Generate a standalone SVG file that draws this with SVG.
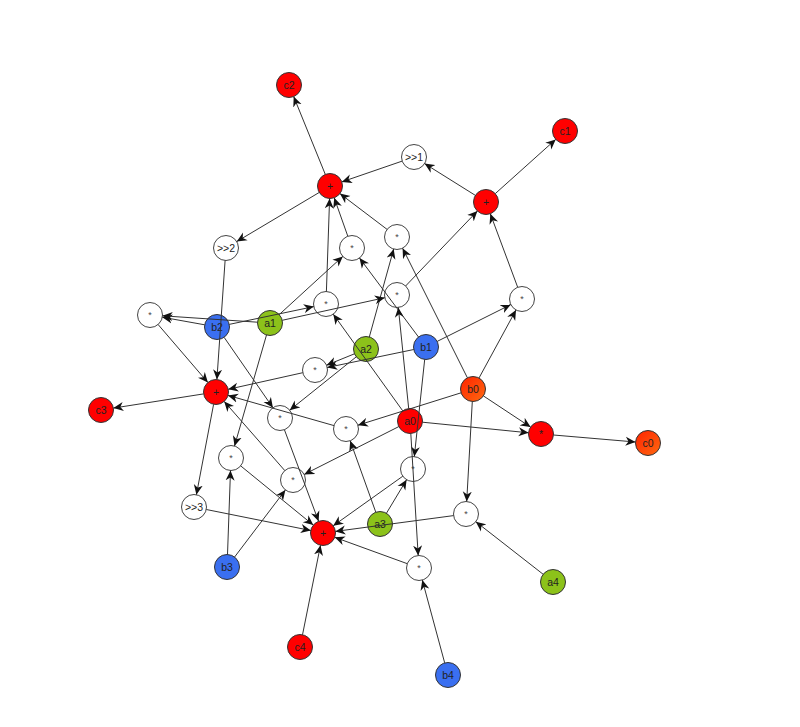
<svg xmlns="http://www.w3.org/2000/svg" width="800" height="727" viewBox="0 0 800 727">
<style>
.n circle{stroke:#333;stroke-width:1}
.w circle{fill:#fff;stroke:#444}
.r circle{fill:#ff0000}
.g circle{fill:#8cc21a}
.b circle{fill:#3a6ff0}
.o circle{fill:url(#og)}
text{font-family:"Liberation Sans",Arial,sans-serif;font-size:10.5px;fill:#222;text-anchor:middle;dominant-baseline:central}
.w text.s{font-size:9px;fill:#444}
#edges line{stroke:#333;stroke-width:1;marker-end:url(#ah)}
</style>
<defs>
<linearGradient id="og" x1="0" y1="0" x2="1" y2="1">
<stop offset="0" stop-color="#ff2200"/>
<stop offset="1" stop-color="#ff6a10"/>
</linearGradient>
<marker id="ah" viewBox="-10 -5 10 10" refX="0" refY="0" markerWidth="10" markerHeight="10" markerUnits="userSpaceOnUse" orient="auto">
<path d="M0,0 L-10,-4.5 L-7,0 L-10,4.5 Z" fill="#111"/>
</marker>
</defs>
<rect width="800" height="727" fill="#fff"/>
<g id="nodes">
<g id="c2" class="n r"><circle cx="289" cy="85" r="12.5"/><text x="289" y="85">c2</text></g>
<g id="c1" class="n r"><circle cx="565" cy="131" r="12.5"/><text x="565" y="131">c1</text></g>
<g id="shr1" class="n w"><circle cx="414" cy="157" r="12.5"/><text x="414" y="157">&gt;&gt;1</text></g>
<g id="add2" class="n r"><circle cx="330" cy="186" r="12.5"/><text x="330" y="186">+</text></g>
<g id="add1" class="n r"><circle cx="486" cy="202" r="12.5"/><text x="486" y="202">+</text></g>
<g id="shr2" class="n w"><circle cx="226" cy="248" r="12.5"/><text x="226" y="248">&gt;&gt;2</text></g>
<g id="m1" class="n w"><circle cx="352" cy="248" r="12.5"/><text class="s" x="352" y="248">*</text></g>
<g id="m2" class="n w"><circle cx="397" cy="237" r="12.5"/><text class="s" x="397" y="237">*</text></g>
<g id="m3" class="n w"><circle cx="150" cy="315" r="12.5"/><text class="s" x="150" y="315">*</text></g>
<g id="b2" class="n b"><circle cx="217" cy="327" r="12.5"/><text x="217" y="327">b2</text></g>
<g id="a1" class="n g"><circle cx="270" cy="323" r="12.5"/><text x="270" y="323">a1</text></g>
<g id="m4" class="n w"><circle cx="326" cy="304" r="12.5"/><text class="s" x="326" y="304">*</text></g>
<g id="m5" class="n w"><circle cx="397" cy="295" r="12.5"/><text class="s" x="397" y="295">*</text></g>
<g id="m6" class="n w"><circle cx="522" cy="299" r="12.5"/><text class="s" x="522" y="299">*</text></g>
<g id="a2" class="n g"><circle cx="366" cy="349" r="12.5"/><text x="366" y="349">a2</text></g>
<g id="b1" class="n b"><circle cx="426" cy="347" r="12.5"/><text x="426" y="347">b1</text></g>
<g id="m7" class="n w"><circle cx="315" cy="370" r="12.5"/><text class="s" x="315" y="370">*</text></g>
<g id="add3" class="n r"><circle cx="216" cy="392" r="12.5"/><text x="216" y="392">+</text></g>
<g id="c3" class="n r"><circle cx="101" cy="410" r="12.5"/><text x="101" y="410">c3</text></g>
<g id="b0" class="n o"><circle cx="473" cy="389" r="12.5"/><text x="473" y="389">b0</text></g>
<g id="m8" class="n w"><circle cx="280" cy="418" r="12.5"/><text class="s" x="280" y="418">*</text></g>
<g id="m9" class="n w"><circle cx="346" cy="429" r="12.5"/><text class="s" x="346" y="429">*</text></g>
<g id="a0" class="n r"><circle cx="410" cy="421" r="12.5"/><text x="410" y="421">a0</text></g>
<g id="mul0" class="n r"><circle cx="541" cy="434" r="12.5"/><text x="541" y="434">*</text></g>
<g id="c0" class="n o"><circle cx="648" cy="443" r="12.5"/><text x="648" y="443">c0</text></g>
<g id="m10" class="n w"><circle cx="231" cy="458" r="12.5"/><text class="s" x="231" y="458">*</text></g>
<g id="m11" class="n w"><circle cx="413" cy="469" r="12.5"/><text class="s" x="413" y="469">*</text></g>
<g id="m12" class="n w"><circle cx="293" cy="480" r="12.5"/><text class="s" x="293" y="480">*</text></g>
<g id="shr3" class="n w"><circle cx="194" cy="507" r="12.5"/><text x="194" y="507">&gt;&gt;3</text></g>
<g id="m13" class="n w"><circle cx="466" cy="514" r="12.5"/><text class="s" x="466" y="514">*</text></g>
<g id="a3" class="n g"><circle cx="380" cy="524" r="12.5"/><text x="380" y="524">a3</text></g>
<g id="add4" class="n r"><circle cx="323" cy="533" r="12.5"/><text x="323" y="533">+</text></g>
<g id="b3" class="n b"><circle cx="227" cy="567" r="12.5"/><text x="227" y="567">b3</text></g>
<g id="m14" class="n w"><circle cx="419" cy="568" r="12.5"/><text class="s" x="419" y="568">*</text></g>
<g id="a4" class="n g"><circle cx="553" cy="582" r="12.5"/><text x="553" y="582">a4</text></g>
<g id="c4" class="n r"><circle cx="300" cy="647" r="12.5"/><text x="300" y="647">c4</text></g>
<g id="b4" class="n b"><circle cx="448" cy="675" r="12.5"/><text x="448" y="675">b4</text></g>
</g>
<g id="edges">
<line x1="325.3" y1="174.4" x2="293.7" y2="96.6"/>
<line x1="402.2" y1="161.1" x2="341.8" y2="181.9"/>
<line x1="319.3" y1="192.4" x2="236.7" y2="241.6"/>
<line x1="475.4" y1="195.4" x2="424.6" y2="163.6"/>
<line x1="495.3" y1="193.6" x2="555.7" y2="139.4"/>
<line x1="347.8" y1="236.2" x2="334.2" y2="197.8"/>
<line x1="387.1" y1="229.4" x2="339.9" y2="193.6"/>
<line x1="326.4" y1="291.5" x2="329.6" y2="198.5"/>
<line x1="405.6" y1="286.0" x2="477.4" y2="211.0"/>
<line x1="517.7" y1="287.3" x2="490.3" y2="213.7"/>
<line x1="279.2" y1="314.6" x2="342.8" y2="256.4"/>
<line x1="418.5" y1="337.0" x2="359.5" y2="258.0"/>
<line x1="369.3" y1="337.0" x2="393.7" y2="249.0"/>
<line x1="467.4" y1="377.8" x2="402.6" y2="248.2"/>
<line x1="204.7" y1="324.8" x2="162.3" y2="317.2"/>
<line x1="257.5" y1="322.2" x2="162.5" y2="315.8"/>
<line x1="229.2" y1="324.4" x2="313.8" y2="306.6"/>
<line x1="402.7" y1="410.8" x2="333.3" y2="314.2"/>
<line x1="282.2" y1="320.3" x2="384.8" y2="297.7"/>
<line x1="408.7" y1="408.6" x2="398.3" y2="307.4"/>
<line x1="437.2" y1="341.4" x2="510.8" y2="304.6"/>
<line x1="479.0" y1="378.0" x2="516.0" y2="310.0"/>
<line x1="354.5" y1="353.8" x2="326.5" y2="365.2"/>
<line x1="413.8" y1="349.5" x2="327.2" y2="367.5"/>
<line x1="224.1" y1="337.3" x2="272.9" y2="407.7"/>
<line x1="356.3" y1="356.8" x2="289.7" y2="410.2"/>
<line x1="461.1" y1="392.8" x2="357.9" y2="425.2"/>
<line x1="375.8" y1="512.2" x2="350.2" y2="440.8"/>
<line x1="266.5" y1="335.0" x2="234.5" y2="446.0"/>
<line x1="227.5" y1="554.5" x2="230.5" y2="470.5"/>
<line x1="424.7" y1="359.4" x2="414.3" y2="456.6"/>
<line x1="386.4" y1="513.3" x2="406.6" y2="479.7"/>
<line x1="398.8" y1="426.6" x2="304.2" y2="474.4"/>
<line x1="234.6" y1="557.0" x2="285.4" y2="490.0"/>
<line x1="472.3" y1="401.5" x2="466.7" y2="501.5"/>
<line x1="543.2" y1="574.3" x2="475.8" y2="521.7"/>
<line x1="410.8" y1="433.5" x2="418.2" y2="555.5"/>
<line x1="444.7" y1="662.9" x2="422.3" y2="580.1"/>
<line x1="422.4" y1="422.2" x2="528.6" y2="432.8"/>
<line x1="483.4" y1="395.9" x2="530.6" y2="427.1"/>
<line x1="553.5" y1="435.0" x2="635.5" y2="442.0"/>
<line x1="225.1" y1="260.5" x2="216.9" y2="379.5"/>
<line x1="158.1" y1="324.5" x2="207.9" y2="382.5"/>
<line x1="302.8" y1="372.7" x2="228.2" y2="389.3"/>
<line x1="334.0" y1="425.6" x2="228.0" y2="395.4"/>
<line x1="284.8" y1="470.6" x2="224.2" y2="401.4"/>
<line x1="203.6" y1="393.9" x2="113.4" y2="408.1"/>
<line x1="213.6" y1="404.3" x2="196.4" y2="494.7"/>
<line x1="206.3" y1="509.5" x2="310.8" y2="530.5"/>
<line x1="284.4" y1="429.7" x2="318.6" y2="521.3"/>
<line x1="240.7" y1="465.9" x2="313.3" y2="525.1"/>
<line x1="402.8" y1="476.2" x2="333.2" y2="525.8"/>
<line x1="453.6" y1="515.6" x2="335.4" y2="531.4"/>
<line x1="407.3" y1="563.7" x2="334.7" y2="537.3"/>
<line x1="302.5" y1="634.8" x2="320.5" y2="545.3"/>
</g>
</svg>
